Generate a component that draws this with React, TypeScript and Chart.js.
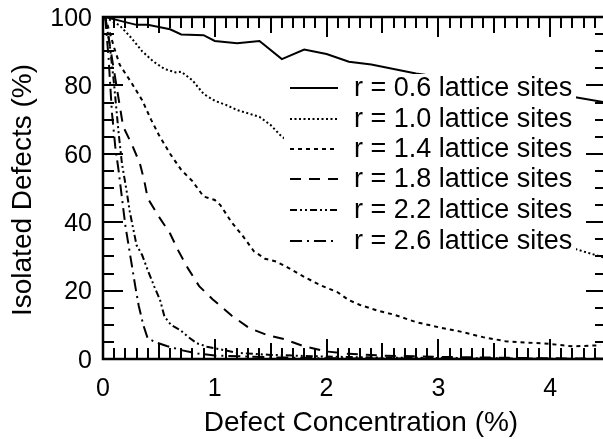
import React, { useEffect, useRef } from "react";
import { Chart, registerables } from "chart.js";

Chart.register(...registerables);

const FONT = "'Liberation Sans', Arial, Helvetica, sans-serif";

// ---- data ----
const xTickValues = [0, 1, 2, 3, 4];
const xTickLabels = ["0", "1", "2", "3", "4"];
const yTickValues = [0, 20, 40, 60, 80, 100];
const yTickLabels = ["0", "20", "40", "60", "80", "100"];
const xTitle = "Defect Concentration (%)";
const yTitle = "Isolated Defects (%)";

const seriesLabels = [
  "r = 0.6 lattice sites",
  "r = 1.0 lattice sites",
  "r = 1.4 lattice sites",
  "r = 1.8 lattice sites",
  "r = 2.2 lattice sites",
  "r = 2.6 lattice sites",
];

const x06 = [0.02, 0.2, 0.3, 0.4, 0.6, 0.7, 0.9, 1.0, 1.2, 1.4, 1.6, 1.8, 2.0, 2.2, 2.4, 2.6, 2.8, 3.0, 3.4, 3.8, 4.2, 4.5];
const y06 = [100, 98.5, 97.7, 97.7, 96.4, 94.9, 94.7, 93.0, 92.3, 93.0, 87.7, 90.5, 89.2, 86.9, 86.1, 84.8, 83.5, 82.5, 80.5, 78.5, 76.7, 75];

const x10 = [0.02, 0.15, 0.25, 0.35, 0.45, 0.55, 0.65, 0.7, 0.8, 0.9, 1.0, 1.1, 1.2, 1.4, 1.5, 1.6, 1.8, 2.0, 2.5, 3.0, 3.5, 4.0, 4.2, 4.5];
const y10 = [100, 97.5, 94, 90, 87, 84.8, 83.8, 84, 81.5, 77.5, 75.5, 74.3, 72.8, 70.8, 68.4, 65, 61, 57, 49, 43, 38.5, 34.5, 32.4, 29.5];

const x14 = [0.02, 0.1, 0.15, 0.25, 0.35, 0.43, 0.5, 0.6, 0.7, 0.8, 0.9, 1.0, 1.05, 1.15, 1.25, 1.35, 1.45, 1.55, 1.65, 1.8, 1.95, 2.1, 2.2, 2.3, 2.45, 2.6, 2.8, 3.0, 3.2, 3.4, 3.6, 3.8, 4.0, 4.2, 4.45];
const y14 = [100, 91, 86, 81, 75.7, 70, 65.5, 60, 55.3, 52, 47.5, 46.5, 45, 40, 36, 31.5, 29.3, 28.5, 26.8, 24, 21.5, 19.5, 17.2, 15.8, 14.2, 13, 10.8, 9.3, 8, 6.4, 5.2, 4.8, 4.4, 3.7, 4];

const x18 = [0.02, 0.08, 0.13, 0.18, 0.26, 0.33, 0.37, 0.4, 0.5, 0.6, 0.67, 0.76, 0.86, 0.98, 1.15, 1.31, 1.47, 1.62, 1.8, 2.0, 2.2, 2.5, 3.0, 3.5, 4.0, 4.5];
const y18 = [100, 88, 78, 68, 62.6, 57.2, 52, 47, 41.6, 36.7, 31.9, 26.5, 21.3, 17.5, 12.7, 9, 7, 5.8, 3.7, 2.2, 1.5, 1, 0.6, 0.4, 0.2, 0.1];

const x22 = [0.02, 0.06, 0.1, 0.14, 0.17, 0.21, 0.24, 0.3, 0.35, 0.4, 0.46, 0.51, 0.55, 0.61, 0.69, 0.76, 0.84, 0.93, 1.05, 1.2, 1.5, 2.0, 2.5, 3.0, 4.0, 4.5];
const y22 = [100, 92, 80, 66, 57, 49.4, 43, 33.3, 30.4, 26, 21.1, 17.3, 12.4, 9.9, 8.5, 6.5, 4.6, 3.6, 2.8, 1.8, 1.2, 0.7, 0.4, 0.3, 0.1, 0];

const x26 = [0.02, 0.05, 0.08, 0.11, 0.14, 0.17, 0.2, 0.23, 0.26, 0.29, 0.32, 0.36, 0.4, 0.48, 0.57, 0.7, 0.85, 1.0, 1.5, 2.0, 3.0, 4.5];
const y26 = [100, 88, 72, 62, 55, 47, 39, 33, 27, 21, 15.5, 10, 6, 4.8, 3.8, 2.6, 1.6, 1, 0.5, 0.2, 0.1, 0];

const seriesX = [x06, x10, x14, x18, x22, x26];
const seriesY = [y06, y10, y14, y18, y22, y26];
const seriesDash: number[][] = [
  [],
  [2, 2.5],
  [4, 4],
  [11, 8],
  [7, 3, 2, 3, 2, 3],
  [12, 5, 2, 5],
];

const W = 612;
const H = 439;
const PLOT = { left: 103, top: 17, right: 606, bottom: 359 };

const framePlugin = {
  id: "frameAndLegend",
  afterDatasetsDraw(chart: any) {
    const ctx: CanvasRenderingContext2D = chart.ctx;
    const xs = chart.scales.x;
    const ys = chart.scales.y;
    const { left, right, top, bottom } = chart.chartArea;
    ctx.save();

    // legend (white box covering curves)
    const lg = { x: 284, y: 74, w: 292, h: 183 };
    ctx.fillStyle = "#ffffff";
    ctx.fillRect(lg.x, lg.y, lg.w, lg.h);
    const rowY = [88, 119, 149, 179, 210, 241];
    ctx.font = `27px ${FONT}`;
    ctx.textBaseline = "middle";
    ctx.textAlign = "left";
    seriesLabels.forEach((lab, i) => {
      ctx.strokeStyle = "#000";
      ctx.lineWidth = 2;
      ctx.setLineDash(seriesDash[i]);
      ctx.beginPath();
      ctx.moveTo(290, rowY[i]);
      ctx.lineTo(338, rowY[i]);
      ctx.stroke();
      ctx.setLineDash([]);
      ctx.fillStyle = "#000";
      ctx.fillText(lab, 354, rowY[i] + 1);
    });

    // frame
    ctx.setLineDash([]);
    ctx.strokeStyle = "#000";
    ctx.lineWidth = 2.5;
    ctx.strokeRect(left, top, right - left, bottom - top);

    // x ticks (top & bottom, inward)
    ctx.lineWidth = 2;
    for (let i = 0; i <= 45; i++) {
      const v = i / 10;
      const px = Math.round(xs.getPixelForValue(v));
      const len = i % 10 === 0 ? 20 : i % 5 === 0 ? 16 : 11;
      ctx.beginPath();
      ctx.moveTo(px, bottom);
      ctx.lineTo(px, bottom - len);
      ctx.moveTo(px, top);
      ctx.lineTo(px, top + len);
      ctx.stroke();
    }
    // y ticks (left & right, inward)
    for (let v = 0; v <= 100; v += 5) {
      const py = Math.round(ys.getPixelForValue(v));
      const len = v % 20 === 0 ? 20 : 11;
      ctx.beginPath();
      ctx.moveTo(left, py);
      ctx.lineTo(left + len, py);
      ctx.moveTo(right, py);
      ctx.lineTo(right - len, py);
      ctx.stroke();
    }

    // tick labels
    ctx.fillStyle = "#000";
    ctx.font = `25px ${FONT}`;
    ctx.textAlign = "center";
    ctx.textBaseline = "middle";
    xTickValues.forEach((v, i) => {
      ctx.fillText(xTickLabels[i], xs.getPixelForValue(v), 389);
    });
    ctx.textAlign = "right";
    yTickValues.forEach((v, i) => {
      ctx.fillText(yTickLabels[i], 92, ys.getPixelForValue(v) + 2);
    });

    // axis titles
    ctx.font = `28px ${FONT}`;
    ctx.textAlign = "center";
    ctx.textBaseline = "middle";
    ctx.fillText(xTitle, 361, 423);
    ctx.save();
    ctx.translate(23, 190);
    ctx.rotate(-Math.PI / 2);
    ctx.fillText(yTitle, 0, 0);
    ctx.restore();

    ctx.restore();
  },
};

export default function App() {
  const ref = useRef<HTMLCanvasElement | null>(null);
  useEffect(() => {
    if (!ref.current) return;
    const datasets = seriesLabels.map((lab, i) => ({
      label: lab,
      data: seriesX[i].map((x, j) => ({ x, y: seriesY[i][j] })),
      borderColor: "#000",
      borderWidth: 2,
      borderDash: seriesDash[i],
      pointRadius: 0,
      tension: 0,
      fill: false,
    }));
    const chart = new Chart(ref.current, {
      type: "line",
      data: { datasets },
      options: {
        responsive: false,
        animation: false,
        devicePixelRatio: 1,
        layout: {
          padding: {
            left: PLOT.left,
            top: PLOT.top,
            right: W - PLOT.right,
            bottom: H - PLOT.bottom,
          },
        },
        plugins: { legend: { display: false }, tooltip: { enabled: false } },
        scales: {
          x: { type: "linear", min: 0, max: 4.5, display: false },
          y: { type: "linear", min: 0, max: 100, display: false },
        },
      },
      plugins: [framePlugin],
    });
    return () => chart.destroy();
  }, []);
  return (
    <div
      style={{
        position: "fixed",
        left: 0,
        top: 0,
        width: 603,
        height: 439,
        overflow: "hidden",
        background: "#fff",
      }}
    >
      <canvas ref={ref} width={W} height={H} style={{ width: W, height: H, display: "block" }} />
    </div>
  );
}
